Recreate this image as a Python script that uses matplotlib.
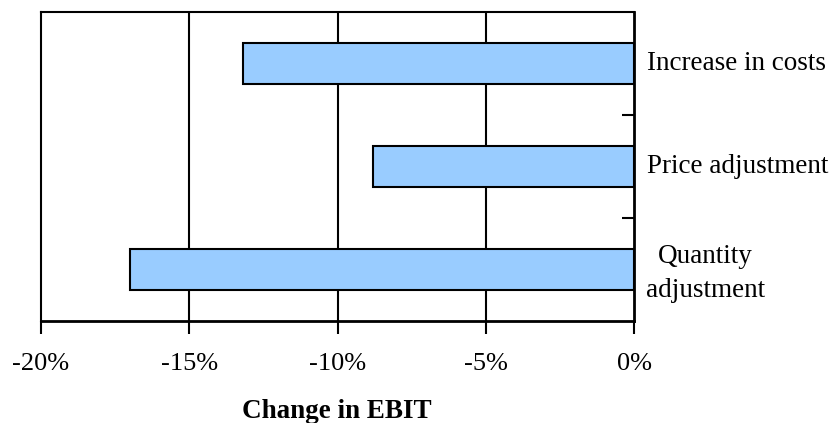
import matplotlib
matplotlib.use("Agg")
import matplotlib.pyplot as plt
from matplotlib.ticker import FuncFormatter

categories = ["Quantity\nadjustment", "Price adjustment", "Increase in costs"]
values = [-17.0, -8.8, -13.2]
xticks = [-20, -15, -10, -5, 0]

plt.rcParams['font.family'] = ['Liberation Serif', 'DejaVu Serif']

fig = plt.figure(figsize=(8.35, 4.23), dpi=100)
ax = fig.add_axes([41/835, 1 - 321/423, (634-41)/835, (321-12)/423])

pos = list(range(len(categories)))
ax.barh(pos, values, height=0.4, color="#99CCFF", edgecolor="black", linewidth=1.5, zorder=3)

ax.set_xlim(-20, 0)
ax.set_ylim(-0.5, len(categories) - 0.5)
ax.set_xticks(xticks)
ax.xaxis.set_major_formatter(FuncFormatter(lambda v, p: f"{v:.0f}%"))
for v in xticks[1:-1]:
    ax.axvline(v, color="black", lw=1.5, zorder=1)

ax.tick_params(axis='x', direction='out', length=9, width=1.5, labelsize=19, pad=14)
ax.yaxis.tick_right()
ax.set_yticks([p + 0.5 for p in pos[:-1]])
ax.set_yticklabels([])
ax.tick_params(axis='y', direction='in', length=9, width=1.5)

for s in ax.spines.values():
    s.set_color("black")
    s.set_linewidth(1.5)
ax.spines['bottom'].set_linewidth(2)
ax.spines['right'].set_linewidth(2)

for p, c in zip(pos, categories):
    if "\n" in c:
        ax.text(1.12, p - 0.04, c, transform=ax.get_yaxis_transform(), ha='center', va='center',
                fontsize=19.5, linespacing=1.45)
    else:
        ax.text(1.022, p, c, transform=ax.get_yaxis_transform(), ha='left', va='center', fontsize=19.5)

fig.text(337/835, 1 - 411/423, "Change in EBIT", ha='center', va='center', fontsize=19.5, fontweight='bold')

fig.savefig("out.png", dpi=100)
